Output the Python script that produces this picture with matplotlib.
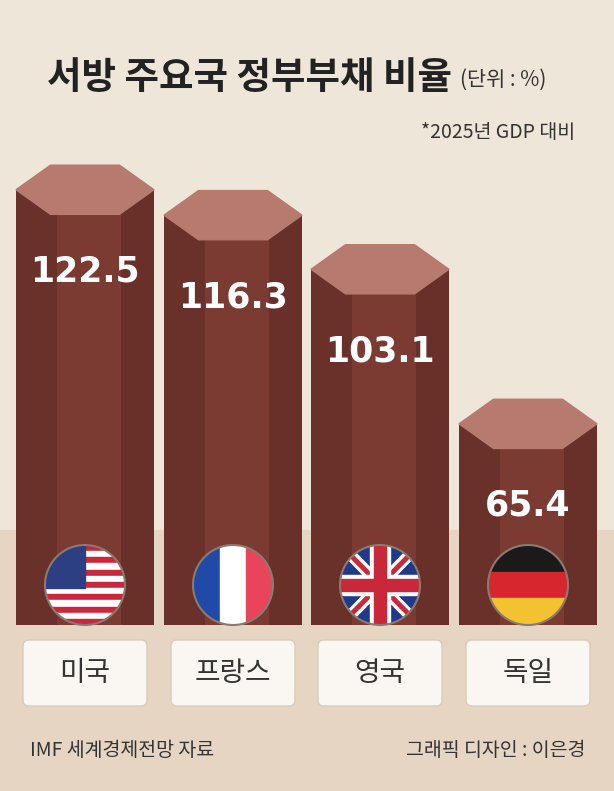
import numpy as np
import matplotlib.pyplot as plt
from matplotlib.patches import Polygon, Circle, FancyBboxPatch, Rectangle

plt.rcParams['font.family'] = ['Noto Sans CJK KR', 'DejaVu Sans']

countries = ['미국', '프랑스', '영국', '독일']
values = [122.5, 116.3, 103.1, 65.4]
flags = ['us', 'fr', 'uk', 'de']

W, H = 614, 791
fig = plt.figure(figsize=(W / 100, H / 100), dpi=100)
fig.patch.set_facecolor('#efe6da')

# background band (bottom layer)
back = fig.add_axes([0, 0, 1, 1], zorder=0)
back.set_xlim(0, W); back.set_ylim(H, 0); back.axis('off')
back.add_patch(Rectangle((0, 530), W, H - 530, color='#e5d5c2'))

# bars axis: zero sits at pixel 692, axes cut off at pixel 625
ax = fig.add_axes([0, 1 - 625 / H, 1, (625 - 130) / H], zorder=1)
ax.set_xlim(0, W); ax.set_ylim((692 - 625) / 4.1, (692 - 130) / 4.1)
ax.axis('off'); ax.patch.set_alpha(0)
xs = [85, 233, 380, 528]
bw = 138
hh = 6
for x, v in zip(xs, values):
    ax.bar(x, v, width=bw, color='#7b3b33', zorder=2)
    ax.bar(x - bw * 0.35, v, width=bw * 0.3, color='#6a302a', zorder=2)
    ax.bar(x + bw * 0.38, v, width=bw * 0.24, color='#69302a', zorder=2)
    hx = [x - bw / 2, x - bw / 4, x + bw / 4, x + bw / 2, x + bw / 4, x - bw / 4]
    hy = [v, v + hh, v + hh, v, v - hh, v - hh]
    ax.add_patch(Polygon(list(zip(hx, hy)), closed=True, color='#b67a6e', zorder=3))
    ax.text(x, v - 20, f'{v:.1f}', color='white', fontsize=25, fontweight='bold',
            ha='center', va='center', family='DejaVu Sans', zorder=4)

# overlay in pixel coords
bg = fig.add_axes([0, 0, 1, 1], zorder=2)
bg.set_xlim(0, W); bg.set_ylim(H, 0); bg.axis('off'); bg.patch.set_alpha(0)

def flag(cx, cy, kind, r=40):
    clip = Circle((cx, cy), r, transform=bg.transData)
    parts = []
    if kind == 'us':
        for i in range(13):
            parts.append(Rectangle((cx - r, cy - r + i * 2 * r / 13), 2 * r, 2 * r / 13,
                                   color='#c8283a' if i % 2 == 0 else 'white'))
        parts.append(Rectangle((cx - r, cy - r), r, r * 14 / 13, color='#2b3f82'))
    elif kind == 'fr':
        for i, c in enumerate(['#1f4aa8', 'white', '#e8455a']):
            parts.append(Rectangle((cx - r + i * 2 * r / 3, cy - r), 2 * r / 3, 2 * r, color=c))
    elif kind == 'uk':
        parts.append(Rectangle((cx - r, cy - r), 2 * r, 2 * r, color='#1f3a8a'))
        for a in [1, -1]:
            parts.append(Polygon([(cx - r, cy - a * r + 6 * a), (cx - r + 8, cy - a * r),
                                  (cx + r, cy + a * r - 6 * a), (cx + r - 8, cy + a * r)], color='white'))
            parts.append(Polygon([(cx - r, cy - a * r + 2 * a), (cx - r + 3, cy - a * r),
                                  (cx + r, cy + a * r - 2 * a), (cx + r - 3, cy + a * r)], color='#c8283a'))
        parts.append(Rectangle((cx - r, cy - 10), 2 * r, 20, color='white'))
        parts.append(Rectangle((cx - 10, cy - r), 20, 2 * r, color='white'))
        parts.append(Rectangle((cx - r, cy - 6), 2 * r, 12, color='#c8283a'))
        parts.append(Rectangle((cx - 6, cy - r), 12, 2 * r, color='#c8283a'))
    elif kind == 'de':
        for i, c in enumerate(['#1a1a1a', '#d8262e', '#f2c230']):
            parts.append(Rectangle((cx - r, cy - r + i * 2 * r / 3), 2 * r, 2 * r / 3, color=c))
    for p in parts:
        p.set_zorder(5)
        bg.add_patch(p)
        p.set_clip_path(clip)
    bg.add_patch(Circle((cx, cy), r, fill=False, ec='#8a7a70', lw=1.5, zorder=6))

for x, name, k in zip(xs, countries, flags):
    flag(x, 585, k)
    bg.add_patch(FancyBboxPatch((x - 62, 640), 124, 66, boxstyle='round,pad=0,rounding_size=6',
                                fc='#faf7f2', ec='#d8cbbb', lw=1, zorder=5))
    bg.text(x, 673, name, fontsize=20, ha='center', va='center', color='#333333', zorder=6)

# titles
bg.text(452, 78, '서방 주요국 정부부채 비율', fontsize=27, fontweight='bold',
        ha='right', va='center', color='#222222')
bg.text(460, 80, '(단위 : %)', fontsize=15, ha='left', va='center', color='#333333')
bg.text(575, 133, '*2025년 GDP 대비', fontsize=14, ha='right', va='center', color='#333333')
bg.text(30, 750, 'IMF 세계경제전망 자료', fontsize=14, ha='left', va='center', color='#333333')
bg.text(585, 750, '그래픽 디자인 : 이은경', fontsize=14, ha='right', va='center', color='#333333')

fig.savefig('out.png', dpi=100)
